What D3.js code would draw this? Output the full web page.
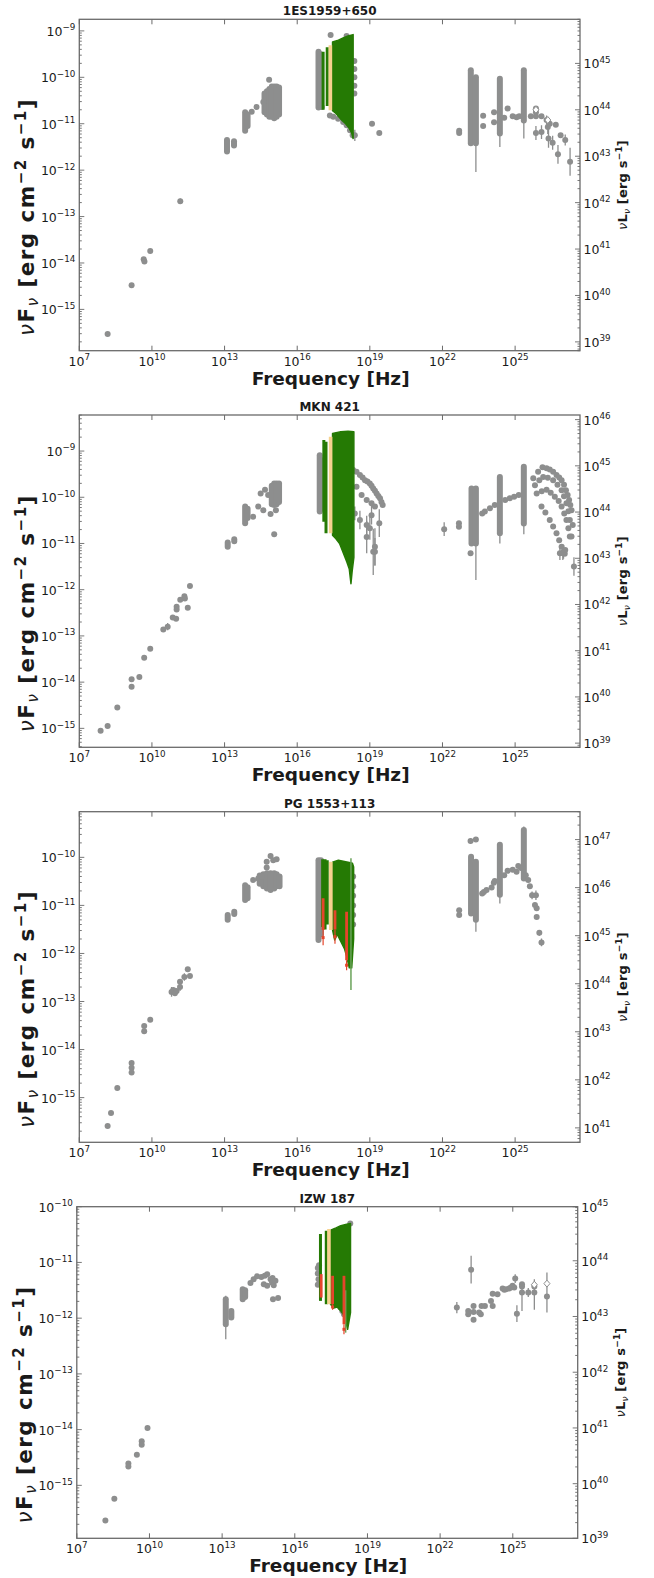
<!DOCTYPE html>
<html><head><meta charset="utf-8">
<script src="https://cdn.jsdelivr.net/npm/d3@7"></script>
<style>body{margin:0;background:#fff}svg{display:block}</style>
</head><body>
<script>
// ---------------- DATA (log10 values) ----------------
const titles = ["1ES1959+650", "MKN 421", "PG 1553+113", "IZW 187"];
const xTickExps = [7, 10, 13, 16, 19, 22, 25];
const xRange = [7, 27.68];
const yRanges = [[-15.89, -8.75], [-15.41, -8.22], [-15.93, -9.05], [-15.95, -10]];
const lumOffsets = [54.7, 54.32, 56.63, 54.97];

// points: [log nu, log nuFnu, symmetric error in dex]
const p1Points = [
[8.17,-15.53,0],[9.16,-14.48,0],[9.66,-13.92,0],[9.69,-13.97,0],[9.93,-13.74,0],[11.17,-12.67,0.06],
[14.12,-10.74,0],[14.32,-10.64,0],[14.6,-10.53,0],[14.84,-10.05,0],
[17.38,-9.09,0],[18.04,-9.11,0],
[18.36,-9.65,0],[18.36,-9.82,0],[18.36,-10.0,0],[18.36,-10.18,0],[18.36,-10.35,0],
[17.01,-10.64,0],[17.35,-10.82,0],[17.49,-10.85,0],[17.69,-10.89,0],[17.9,-10.96,0],[18.04,-11.03,0],[18.18,-11.14,0],[18.29,-11.25,0],[18.38,-11.25,0.12],
[19.09,-11.0,0],[19.39,-11.2,0],
[22.69,-11.15,0],[22.69,-11.2,0],
[23.68,-10.83,0],[23.68,-11.05,0],[24.13,-10.75,0],[24.13,-10.97,0],
[24.55,-10.87,0],[24.69,-10.67,0],[24.9,-10.84,0],[25.06,-10.86,0],[25.17,-10.84,0],
[25.65,-10.84,0],[25.86,-10.67,0],[25.86,-10.75,0],[25.86,-10.84,0],[25.86,-11.2,0.15],[26.09,-10.84,0],[26.09,-11.18,0.15],
[26.3,-10.92,0.1],[26.35,-11.07,0.15],[26.43,-11.0,0],[26.38,-11.32,0.2],[26.55,-11.41,0.15],[26.68,-11.02,0],
[26.77,-11.66,0.2],[26.88,-11.25,0],[27.07,-11.35,0.12],[27.27,-11.82,0.3]
];
// bands of stacked points: [log nu, top, bottom]
const p1Bands = [
[13.1,-11.35,-11.6],[13.39,-11.38,-11.47],[13.85,-10.75,-11.15],[13.95,-10.8,-11.05],
[14.65,-10.35,-10.75],[14.75,-10.3,-10.8],[14.85,-10.25,-10.85],[14.95,-10.2,-10.85],[15.05,-10.2,-10.88],[15.15,-10.2,-10.85],[15.25,-10.22,-10.8],
[16.88,-9.45,-10.65],[16.95,-9.5,-10.6],
[23.17,-9.85,-11.42],[23.38,-10.0,-11.42],[24.37,-10.03,-11.21],[25.36,-9.85,-10.93]
];
const p1Errs = [[23.38,-11.42,-12.04],[24.37,-11.21,-11.5],[25.36,-10.93,-11.32]];
const p1GreenTop = [[17.46,-9.24],[17.7,-9.2],[17.9,-9.15],[18.1,-9.11],[18.31,-9.08]];
const p1GreenBottom = [[17.46,-10.72],[17.6,-10.78],[17.8,-10.9],[18.0,-11.0],[18.15,-11.1],[18.25,-11.2],[18.31,-11.32]];
const p1GreenBars = [[17.07,-9.45,-10.7],[17.24,-9.35,-10.62]];
const p1TanBars = [[17.37,-9.31,-10.71]];
const p1Diamonds = [[25.86,-10.7],[26.35,-10.92]];

const p2Points = [
[7.88,-15.05,0],[8.17,-14.95,0],[8.57,-14.55,0],[9.16,-13.94,0],[9.16,-14.1,0],[9.48,-13.89,0],[9.68,-13.47,0],[9.93,-13.28,0],
[10.47,-12.86,0],[10.65,-12.8,0.08],[10.86,-12.6,0],[11.0,-12.63,0],[11.02,-12.37,0],[11.02,-12.43,0],[11.17,-12.22,0],
[11.34,-12.14,0],[11.36,-12.19,0],[11.48,-12.39,0],[11.57,-11.92,0],
[14.18,-10.42,0],[14.39,-10.2,0],[14.6,-10.28,0],[14.49,-9.92,0],[14.67,-9.84,0],[14.8,-9.95,0],[14.9,-10.36,0],[15.05,-10.8,0],[15.12,-10.28,0],
[18.31,-9.41,0],[18.45,-9.45,0],[18.59,-9.52,0],[18.7,-9.57,0],[18.8,-9.63,0],[18.9,-9.66,0],[19.0,-9.7,0],[19.07,-9.75,0],
[19.14,-9.81,0],[19.21,-9.86,0],[19.28,-9.92,0],[19.35,-9.97,0],[19.42,-10.02,0],[19.48,-10.1,0],[19.53,-10.17,0],
[18.45,-9.77,0],[18.66,-9.95,0],[18.87,-10.06,0],[19.07,-10.13,0],[19.21,-10.2,0],
[18.38,-10.35,0.15],[18.59,-10.49,0.2],[18.87,-10.6,0.2],[19.0,-10.67,0.25],[19.07,-10.39,0.2],[19.21,-11.07,0.4],
[19.39,-10.56,0.3],[18.87,-10.86,0.35],[19.14,-11.18,0.5],[19.21,-11.18,0.3],
[22.07,-10.69,0.15],[22.68,-10.56,0],[22.68,-10.64,0],[23.16,-11.21,0],
[23.64,-10.35,0],[23.75,-10.31,0],[23.96,-10.24,0],[24.16,-10.17,0],
[24.59,-10.06,0],[24.78,-10.02,0],[24.96,-9.99,0],[25.15,-9.95,0],
[25.75,-9.59,0],[25.95,-9.45,0],[26.13,-9.35,0],[26.3,-9.37,0],[26.43,-9.4,0],[26.57,-9.45,0],[26.71,-9.52,0],[26.82,-9.57,0],
[26.92,-9.63,0],[27.02,-9.73,0],[27.1,-9.85,0],[27.17,-9.95,0],[27.23,-10.06,0],[27.28,-10.17,0],[27.33,-10.28,0],
[25.82,-9.74,0],[26.0,-9.63,0],[26.16,-9.56,0],[26.35,-9.58,0],[26.57,-9.63,0],[26.75,-9.73,0],[26.92,-9.85,0],[27.02,-9.98,0],
[27.12,-10.13,0],[27.2,-10.3,0],[27.26,-10.49,0],
[25.89,-9.92,0],[26.1,-9.87,0],[26.3,-9.84,0],[26.47,-9.9,0],[26.64,-9.99,0],[26.8,-10.08,0],[26.92,-10.2,0],[27.03,-10.35,0],
[27.12,-10.49,0],[27.2,-10.67,0],[27.26,-10.85,0],
[26.09,-10.2,0],[26.25,-10.33,0],[26.43,-10.49,0],[26.57,-10.63,0],[26.71,-10.78,0],[26.82,-10.93,0],[26.92,-11.07,0],[27.05,-11.22,0],
[26.85,-11.21,0.15],[26.97,-11.21,0.15],[27.0,-11.18,0.15],[27.07,-11.14,0],[27.33,-10.85,0],[27.38,-10.6,0],[27.43,-11.5,0.2]
];
const p2Bands = [
[13.13,-10.98,-11.07],[13.4,-10.91,-10.95],[13.85,-10.2,-10.56],[13.95,-10.25,-10.45],
[14.95,-9.75,-10.15],[15.05,-9.7,-10.17],[15.15,-9.7,-10.15],[15.25,-9.7,-10.1],
[16.93,-9.09,-10.31],[17.0,-9.2,-10.25],
[23.2,-9.81,-11.0],[23.38,-9.81,-11.0],[24.37,-9.56,-10.78],[25.36,-9.34,-10.57]
];
const p2Errs = [[23.38,-11.0,-11.79],[24.37,-10.78,-11.0],[25.36,-10.57,-10.8]];
const p2GreenTop = [[17.46,-8.62],[17.8,-8.58],[18.1,-8.57],[18.34,-8.58]];
const p2GreenBottom = [[17.46,-10.82],[17.6,-10.9],[17.75,-11.0],[17.9,-11.2],[18.05,-11.4],[18.15,-11.55],[18.22,-11.87],[18.27,-11.6],[18.34,-11.3]];
const p2GreenBars = [[17.1,-8.76,-10.53],[17.19,-8.8,-10.78]];
const p2TanBars = [[17.38,-8.69,-10.78]];

const p3Points = [
[8.17,-15.59,0],[8.31,-15.32,0],[8.57,-14.8,0],[9.16,-14.28,0],[9.16,-14.38,0],[9.16,-14.48,0],[9.68,-13.51,0],[9.68,-13.62,0],[9.93,-13.38,0],
[10.81,-12.8,0.1],[10.88,-12.76,0],[10.95,-12.83,0],[11.02,-12.78,0],[11.16,-12.7,0.08],[11.16,-12.59,0],[11.34,-12.49,0.08],[11.48,-12.33,0],[11.57,-12.47,0],
[14.18,-10.47,0],[14.39,-10.44,0],[14.53,-10.4,0],[14.74,-10.09,0],[14.74,-10.21,0],[14.9,-9.97,0],[15.01,-10.06,0],[15.15,-10.04,0],
[18.31,-10.4,0],[18.31,-10.6,0],[18.31,-10.8,0],[18.31,-11.0,0],[18.31,-11.2,0],[18.31,-11.4,0],
[22.69,-11.1,0],[22.69,-11.2,0],[23.16,-9.66,0.05],[23.38,-9.63,0.05],
[23.64,-10.75,0],[23.71,-10.72,0],[23.82,-10.68,0],[24.03,-10.63,0],[24.12,-10.53,0],[24.16,-10.49,0],
[24.55,-10.37,0],[24.69,-10.28,0],[24.9,-10.26,0],[25.06,-10.3,0],[25.13,-10.18,0],[25.24,-10.22,0],
[25.44,-10.37,0],[25.54,-10.47,0],[25.61,-10.6,0],[25.7,-10.79,0.08],[25.86,-10.79,0.1],[25.82,-10.99,0],[25.89,-11.06,0],[25.89,-11.24,0],
[26.0,-11.57,0.06],[26.09,-11.77,0.08]
];
const p3Bands = [
[13.13,-11.2,-11.3],[13.4,-11.13,-11.18],[13.85,-10.58,-10.89],[13.95,-10.62,-10.85],
[14.45,-10.38,-10.55],[14.6,-10.35,-10.6],[14.75,-10.33,-10.65],[14.9,-10.33,-10.68],[15.05,-10.33,-10.65],[15.15,-10.35,-10.6],[15.27,-10.4,-10.6],
[16.88,-10.06,-11.72],[16.98,-10.06,-11.6],
[23.18,-9.99,-11.17],[23.38,-10.09,-11.3],[24.37,-9.74,-10.78],[25.36,-9.43,-10.44]
];
const p3Errs = [[23.38,-11.3,-11.55],[24.37,-10.78,-10.96],[25.36,-9.36,-9.43]];
const p3GreenTop = [[17.46,-10.1],[17.7,-10.06],[17.9,-10.08],[18.1,-10.1],[18.28,-10.12],[18.33,-10.2]];
const p3GreenBottom = [[17.46,-11.51],[17.55,-11.72],[17.65,-11.6],[17.8,-11.75],[17.95,-11.9],[18.05,-12.07],[18.15,-12.3],[18.25,-12.3],[18.33,-11.7]];
const p3GreenBars = [[17.05,-10.04,-11.45],[17.15,-10.04,-11.5],[17.24,-10.06,-11.4]];
const p3FaintGreen = [[18.22,-10.02,-12.76]];
const p3TanBars = [[17.39,-10.09,-11.51]];
// red: [log nu, top, bottom, lower error end]
const p3RedBars = [[17.07,-10.85,-11.51,-11.83],[17.56,-11.1,-11.5,-11.8],[18.04,-11.13,-12.14,-12.35]];

const p4Points = [
[8.18,-15.63,0],[8.55,-15.24,0],[9.13,-14.61,0],[9.13,-14.66,0],[9.48,-14.45,0],[9.68,-14.21,0],[9.68,-14.27,0],[9.92,-13.97,0],
[14.17,-11.37,0],[14.3,-11.3,0],[14.44,-11.25,0],[14.62,-11.26,0],[14.76,-11.24,0],[14.86,-11.21,0],[15.0,-11.3,0],[15.06,-11.36,0],
[15.13,-11.41,0],[15.2,-11.33,0],[15.1,-11.66,0],[15.31,-11.64,0],[14.72,-11.39,0],[14.86,-11.42,0],[15.08,-11.28,0],
[16.95,-11.1,0],[16.95,-11.2,0],[16.98,-11.3,0],[16.95,-11.4,0],[17.0,-11.05,0],
[17.55,-11.72,0],[17.89,-11.81,0],[17.96,-11.87,0],[18.03,-11.93,0],[18.29,-10.3,0],
[22.69,-11.81,0.1],[23.16,-11.87,0],[23.16,-11.93,0],[23.38,-11.78,0],[23.38,-11.89,0],[23.38,-12.03,0],[23.28,-11.13,0.25],
[23.61,-11.9,0],[23.68,-11.93,0],[23.71,-11.78,0],[23.85,-11.78,0],[24.1,-11.69,0],[24.17,-11.78,0],[24.17,-11.56,0],[24.37,-11.57,0],
[24.58,-11.47,0],[24.65,-11.49,0],[24.72,-11.48,0],[24.85,-11.47,0],[24.92,-11.45,0],[24.99,-11.42,0],[25.06,-11.45,0],
[25.1,-11.29,0.08],[25.17,-11.92,0.15],[25.38,-11.39,0],[25.38,-11.43,0],[25.38,-11.54,0],[25.64,-11.54,0.08],
[25.89,-11.43,0],[25.89,-11.54,0],[26.41,-11.61,0]
];
const p4Bands = [[13.15,-11.66,-12.11],[13.38,-11.87,-11.99],[13.85,-11.48,-11.66],[13.95,-11.5,-11.62]];
const p4Errs = [[13.15,-11.6,-12.38],[25.38,-11.39,-11.87],[25.89,-11.3,-11.85],[26.41,-11.18,-11.9]];
const p4GreenTop = [[17.48,-10.42],[17.7,-10.38],[17.9,-10.34],[18.1,-10.32],[18.3,-10.3]];
const p4GreenBottom = [[17.48,-11.75],[17.6,-11.82],[17.75,-11.8],[17.9,-11.87],[18.0,-11.93],[18.1,-12.05],[18.18,-12.2],[18.3,-11.9]];
const p4GreenBars = [[17.06,-10.49,-11.69],[17.3,-10.43,-11.75]];
const p4FaintGreen = [[18.1,-11.5,-12.26]];
const p4TanBars = [[17.41,-10.4,-11.75]];
const p4RedBars = [[17.09,-11.21,-11.63,null],[17.56,-11.24,-11.75,-11.85],[18.03,-11.24,-12.11,-12.29]];
const p4Diamonds = [[25.89,-11.4],[26.41,-11.38]];

// ---------------- LAYOUT / STYLE ----------------
const frames = [
  {l:79.3, r:580, t:19.3, b:350.7},
  {l:79.3, r:580, t:415, b:747.3},
  {l:79.3, r:580, t:811.7, b:1142.3},
  {l:76.8, r:577.7, t:1206.7, b:1538.3}
];
const panels = [
  {pts:p1Points, bands:p1Bands, errs:p1Errs, gTop:p1GreenTop, gBot:p1GreenBottom, gBars:p1GreenBars, gFaint:[], tan:p1TanBars, red:[], diam:p1Diamonds},
  {pts:p2Points, bands:p2Bands, errs:p2Errs, gTop:p2GreenTop, gBot:p2GreenBottom, gBars:p2GreenBars, gFaint:[], tan:p2TanBars, red:[], diam:[]},
  {pts:p3Points, bands:p3Bands, errs:p3Errs, gTop:p3GreenTop, gBot:p3GreenBottom, gBars:p3GreenBars, gFaint:p3FaintGreen, tan:p3TanBars, red:p3RedBars, diam:[]},
  {pts:p4Points, bands:p4Bands, errs:p4Errs, gTop:p4GreenTop, gBot:p4GreenBottom, gBars:p4GreenBars, gFaint:p4FaintGreen, tan:p4TanBars, red:p4RedBars, diam:p4Diamonds}
];
const GRAY = "#8d8e8e", GREEN = "#257a04", TAN = "#f6d28f", RED = "#e5452b", SPINE = "#6a6a6a", TXT = "#1a1a1a";
const P = v => Math.pow(10, v);
const MINUS = "\u2212";

const svg = d3.select("body").append("svg").attr("width", 654).attr("height", 1578)
  .style("font-family", "'DejaVu Sans', sans-serif");

function supLabel(g, x, y, base, exp, size, anchor) {
  const t = g.append("text").attr("x", x).attr("y", y).attr("font-size", size)
    .attr("text-anchor", anchor).attr("fill", TXT);
  t.append("tspan").text(base);
  t.append("tspan").attr("dy", -size * 0.45).attr("font-size", size * 0.7).text(exp);
  return t;
}
const expStr = e => (e < 0 ? MINUS + Math.abs(e) : String(e));

// stretch a text so its full length matches a target (spacing only)
function fitLength(t, target) {
  const node = t.node();
  const len = node.getComputedTextLength();
  const n = node.textContent.length;
  if (n > 1 && len > 0 && len < target) t.attr("letter-spacing", (target - len) / n);
}

panels.forEach((p, i) => {
  const f = frames[i];
  const g = svg.append("g");
  const x = d3.scaleLog().domain([P(xRange[0]), P(xRange[1])]).range([f.l, f.r]);
  const yr = yRanges[i];
  const y = d3.scaleLog().domain([P(yr[0]), P(yr[1])]).range([f.b, f.t]);
  const k = lumOffsets[i];
  const yR = d3.scaleLog().domain([P(yr[0] + k), P(yr[1] + k)]).range([f.b, f.t]);

  const clipId = "clip" + i;
  svg.append("clipPath").attr("id", clipId).append("rect")
    .attr("x", f.l).attr("y", f.t).attr("width", f.r - f.l).attr("height", f.b - f.t);
  const d = g.append("g").attr("clip-path", `url(#${clipId})`);

  const vline = (sel, a0, a1) => sel
    .attr("x1", a => x(P(a[0]))).attr("x2", a => x(P(a[0])))
    .attr("y1", a => y(P(a0(a)))).attr("y2", a => y(P(a1(a))));

  // gray error bars
  vline(d.selectAll(".err").data(p.errs).join("line"), a => a[1], a => a[2])
    .attr("stroke", GRAY).attr("stroke-width", 1.3);
  vline(d.selectAll(".perr").data(p.pts.filter(a => a[2] > 0)).join("line"), a => a[1] + a[2], a => a[1] - a[2])
    .attr("stroke", GRAY).attr("stroke-width", 1.3);
  // bands of stacked points
  vline(d.selectAll(".band").data(p.bands).join("line"), a => a[1], a => a[2])
    .attr("stroke", GRAY).attr("stroke-width", 6).attr("stroke-linecap", "round");
  // points
  d.selectAll(".pt").data(p.pts).join("circle")
    .attr("cx", a => x(P(a[0]))).attr("cy", a => y(P(a[1]))).attr("r", 3)
    .attr("fill", GRAY);
  // open diamonds
  d.selectAll(".dm").data(p.diam).join("path")
    .attr("transform", a => `translate(${x(P(a[0]))},${y(P(a[1]))})`)
    .attr("d", "M0,-3.5L3,0L0,3.5L-3,0Z").attr("fill", "#fff").attr("stroke", GRAY).attr("stroke-width", 1);

  // green X-ray envelope
  const line = d3.line().x(a => x(P(a[0]))).y(a => y(P(a[1])));
  d.append("path").attr("d", line(p.gTop.concat(p.gBot.slice().reverse())) + "Z")
    .attr("fill", GREEN).attr("stroke", GREEN).attr("stroke-width", 1.5).attr("stroke-linejoin", "round");
  vline(d.selectAll(".gb").data(p.gBars).join("line"), a => a[1], a => a[2])
    .attr("stroke", GREEN).attr("stroke-width", 3);
  vline(d.selectAll(".gf").data(p.gFaint).join("line"), a => a[1], a => a[2])
    .attr("stroke", "#6aa35a").attr("stroke-width", 1.5);
  vline(d.selectAll(".tan").data(p.tan).join("line"), a => a[1], a => a[2])
    .attr("stroke", TAN).attr("stroke-width", 3.6);
  // red bars
  vline(d.selectAll(".rerr").data(p.red.filter(a => a[3] != null)).join("line"), a => a[2], a => a[3])
    .attr("stroke", RED).attr("stroke-width", 1.2);
  vline(d.selectAll(".rb").data(p.red).join("line"), a => a[1], a => a[2])
    .attr("stroke", RED).attr("stroke-width", 2.8);
  d.selectAll(".rp").data(p.red.filter(a => a[3] != null)).join("rect")
    .attr("x", a => x(P(a[0])) - 1.5).attr("y", a => y(P((a[2] + a[3]) / 2)) - 1.5)
    .attr("width", 3).attr("height", 3).attr("fill", RED);

  // frame
  g.append("rect").attr("x", f.l).attr("y", f.t).attr("width", f.r - f.l).attr("height", f.b - f.t)
    .attr("fill", "none").attr("stroke", SPINE).attr("stroke-width", 1.3);

  // x ticks (bottom + top, inward)
  xTickExps.forEach(e => {
    const xx = x(P(e));
    g.append("line").attr("x1", xx).attr("x2", xx).attr("y1", f.b).attr("y2", f.b - 5).attr("stroke", SPINE);
    g.append("line").attr("x1", xx).attr("x2", xx).attr("y1", f.t).attr("y2", f.t + 5).attr("stroke", SPINE);
    supLabel(g, xx, f.b + 15, "10", expStr(e), 12.5, "middle");
  });

  // left y ticks
  for (let e = Math.floor(yr[0]); e <= Math.ceil(yr[1]); e++) {
    for (let m = 1; m <= 9; m++) {
      const v = e + Math.log10(m);
      if (v < yr[0] - 0.01 || v > yr[1] + 0.01) continue;
      const yy = y(P(v));
      g.append("line").attr("x1", f.l).attr("x2", f.l + (m === 1 ? 5 : 2.5))
        .attr("y1", yy).attr("y2", yy).attr("stroke", SPINE).attr("stroke-width", 0.9);
      if (m === 1) supLabel(g, f.l - 4, yy + 5, "10", expStr(e), 12.5, "end");
    }
  }
  // right y ticks (luminosity)
  const rr = [yr[0] + k, yr[1] + k];
  for (let e = Math.floor(rr[0]); e <= Math.ceil(rr[1]); e++) {
    for (let m = 1; m <= 9; m++) {
      const v = e + Math.log10(m);
      if (v < rr[0] - 0.035 || v > rr[1] + 0.035) continue;
      const yy = Math.max(f.t, Math.min(f.b, yR(P(v))));
      g.append("line").attr("x1", f.r).attr("x2", f.r - (m === 1 ? 5 : 2.5))
        .attr("y1", yy).attr("y2", yy).attr("stroke", SPINE).attr("stroke-width", 0.9);
      if (m === 1) supLabel(g, f.r + 3.5, yy + 5, "10", String(e), 12.5, "start");
    }
  }

  // title
  g.append("text").attr("x", (f.l + f.r) / 2).attr("y", f.t - 4).attr("text-anchor", "middle")
    .attr("font-size", 12).attr("font-weight", "bold").attr("fill", TXT).text(titles[i]);
  // x label
  g.append("text").attr("x", (f.l + f.r) / 2 + 1).attr("y", f.b + 34).attr("text-anchor", "middle")
    .attr("font-size", 18.5).attr("font-weight", "bold").attr("fill", TXT).text("Frequency [Hz]");
  // left y label (centered slightly below the panel middle, as in the reference)
  const cy = (f.t + f.b) / 2;
  const yl = g.append("text").attr("transform", `translate(${f.l - 45},${cy + 32}) rotate(-90)`)
    .attr("text-anchor", "middle").attr("font-size", 21.5).attr("font-weight", "bold").attr("fill", TXT);
  yl.append("tspan").attr("font-style", "italic").attr("font-weight", "normal").text("\u03bd");
  yl.append("tspan").text("F");
  yl.append("tspan").attr("font-size", 15).attr("dy", 4).attr("font-style", "italic").attr("font-weight", "normal").text("\u03bd");
  yl.append("tspan").attr("dy", -4).text(" [erg cm");
  yl.append("tspan").attr("font-size", 15).attr("dy", -8).text(MINUS + "2");
  yl.append("tspan").attr("dy", 8).text(" s");
  yl.append("tspan").attr("font-size", 15).attr("dy", -8).text(MINUS + "1");
  yl.append("tspan").attr("dy", 8).text("]");
  fitLength(yl, 238);
  // right y label
  const rl = g.append("text").attr("transform", `translate(${f.r + 47},${cy}) rotate(-90)`)
    .attr("text-anchor", "middle").attr("font-size", 13).attr("font-weight", "bold").attr("fill", TXT);
  rl.append("tspan").attr("font-style", "italic").attr("font-weight", "normal").text("\u03bd");
  rl.append("tspan").text("L");
  rl.append("tspan").attr("font-size", 9).attr("dy", 3).attr("font-style", "italic").attr("font-weight", "normal").text("\u03bd");
  rl.append("tspan").attr("dy", -3).text(" [erg s");
  rl.append("tspan").attr("font-size", 9).attr("dy", -5).text(MINUS + "1");
  rl.append("tspan").attr("dy", 5).text("]");
  fitLength(rl, 90);
});
</script>
</body></html>
